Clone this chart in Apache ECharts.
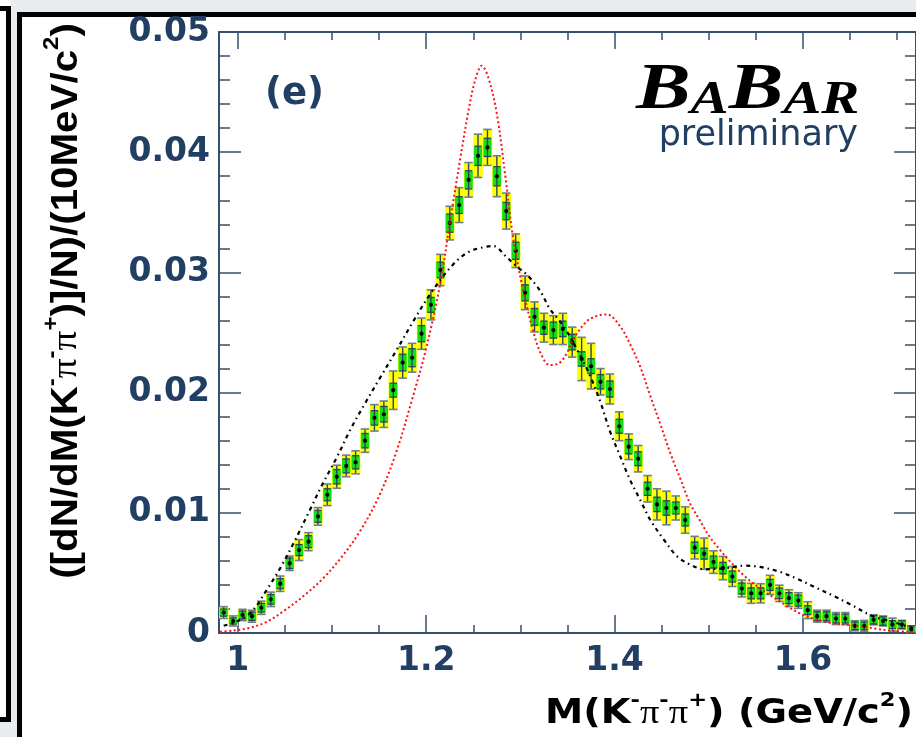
<!DOCTYPE html>
<html><head><meta charset="utf-8">
<script src="https://cdn.jsdelivr.net/npm/echarts@6/dist/echarts.min.js"></script>
<style>html,body{margin:0;padding:0;background:#e9ecef}#c{width:916px;height:737px}</style>
</head><body><div id="c"></div>
<script>
const massBins = [0.985,0.995,1.005,1.015,1.025,1.035,1.045,1.055,1.065,1.075,1.085,1.095,1.105,1.115,1.125,1.135,1.145,1.155,1.165,1.175,1.185,1.195,1.205,1.215,1.225,1.235,1.245,1.255,1.265,1.275,1.285,1.295,1.305,1.315,1.325,1.335,1.345,1.355,1.365,1.375,1.385,1.395,1.405,1.415,1.425,1.435,1.445,1.455,1.465,1.475,1.485,1.495,1.505,1.515,1.525,1.535,1.545,1.555,1.565,1.575,1.585,1.595,1.605,1.615,1.625,1.635,1.645,1.655,1.665,1.675,1.685,1.695,1.705,1.715];
const yieldVal = [0.0017,0.0010,0.0015,0.0014,0.0021,0.0028,0.0041,0.0058,0.0069,0.0076,0.0097,0.0115,0.0130,0.0139,0.0142,0.0160,0.0179,0.0182,0.0202,0.0225,0.0229,0.0249,0.0273,0.0302,0.0341,0.0356,0.0377,0.0397,0.0404,0.0380,0.0351,0.0318,0.0283,0.0263,0.0254,0.0252,0.0253,0.0242,0.0228,0.0222,0.0209,0.0203,0.0172,0.0155,0.0145,0.0120,0.0107,0.0104,0.0104,0.0094,0.0071,0.0066,0.0059,0.0054,0.0047,0.0037,0.0033,0.0033,0.0040,0.0033,0.0029,0.0027,0.0019,0.0014,0.0014,0.0012,0.0012,0.0006,0.0006,0.0011,0.0010,0.0007,0.0007,0.0003];
const errTotal = [0.00049,0.00042,0.00047,0.0005,0.00055,0.0006,0.00064,0.0006,0.00087,0.00075,0.00073,0.0009,0.00096,0.0009,0.00096,0.00097,0.0011,0.0011,0.0016,0.0013,0.0012,0.0013,0.00125,0.0013,0.0014,0.00145,0.00144,0.0018,0.0015,0.0017,0.0015,0.0014,0.0014,0.00125,0.0012,0.0012,0.0013,0.00125,0.0018,0.0019,0.0011,0.00125,0.0012,0.00107,0.0011,0.0011,0.0013,0.0014,0.001,0.0011,0.00094,0.0013,0.00094,0.00097,0.00083,0.0007,0.00083,0.0008,0.0008,0.00068,0.0007,0.00065,0.0007,0.0005,0.0005,0.0005,0.0005,0.00042,0.00045,0.00042,0.00042,0.00054,0.00035,0.0003];
const errStat = [0.0003,0.00026,0.00033,0.00035,0.00036,0.0004,0.00042,0.00044,0.00046,0.0005,0.0005,0.0005,0.0006,0.00058,0.00055,0.0006,0.0006,0.00065,0.00058,0.0007,0.00075,0.00067,0.00062,0.00065,0.00076,0.0007,0.00076,0.0008,0.00076,0.0008,0.00072,0.00072,0.00067,0.0007,0.00055,0.00067,0.00065,0.00065,0.0006,0.00062,0.0006,0.00067,0.00058,0.0006,0.00058,0.00055,0.0006,0.0006,0.0005,0.0005,0.00047,0.00046,0.0005,0.00048,0.00046,0.00046,0.00046,0.00046,0.00046,0.00044,0.00046,0.00046,0.00037,0.00037,0.00037,0.00037,0.00037,0.00032,0.00032,0.00035,0.00035,0.00033,0.00033,0.0003];
const redMass = [0.981,0.995,1.011,1.030,1.050,1.070,1.090,1.110,1.130,1.150,1.168,1.186,1.200,1.215,1.225,1.236,1.245,1.252,1.259,1.266,1.275,1.284,1.292,1.303,1.314,1.322,1.331,1.340,1.348,1.356,1.370,1.382,1.392,1.406,1.416,1.427,1.438,1.448,1.459,1.470,1.480,1.491,1.501,1.512,1.522,1.537,1.551,1.572,1.586,1.600,1.615,1.629,1.657,1.678,1.700,1.720];
const redVal = [0.0001,0.0002,0.0004,0.0009,0.0019,0.0031,0.0045,0.0063,0.0085,0.0114,0.0150,0.0197,0.0237,0.0291,0.0341,0.0394,0.0435,0.0460,0.0472,0.0462,0.0432,0.0380,0.0330,0.0285,0.0250,0.0232,0.0223,0.0224,0.0231,0.0244,0.0259,0.0264,0.0265,0.0255,0.0241,0.0222,0.0197,0.0175,0.0150,0.0128,0.0108,0.0093,0.0080,0.0069,0.0060,0.0048,0.0039,0.0028,0.0021,0.0015,0.0011,0.00085,0.0006,0.00035,0.00015,0.0001];
const dashMass = [0.985,1.000,1.015,1.030,1.045,1.060,1.075,1.090,1.105,1.120,1.135,1.150,1.169,1.186,1.206,1.229,1.245,1.261,1.271,1.285,1.296,1.307,1.317,1.323,1.331,1.346,1.360,1.374,1.385,1.395,1.406,1.416,1.427,1.438,1.452,1.466,1.480,1.496,1.517,1.538,1.554,1.575,1.594,1.613,1.632,1.650,1.674,1.692,1.717];
const dashVal = [0.0006,0.0010,0.0018,0.0035,0.0054,0.0076,0.0100,0.0124,0.0146,0.0170,0.0191,0.0211,0.0236,0.0259,0.0284,0.0307,0.0317,0.0321,0.0322,0.0313,0.0305,0.0298,0.0289,0.0282,0.0270,0.0255,0.0236,0.0214,0.0192,0.0168,0.0147,0.0128,0.0111,0.0094,0.0078,0.0064,0.0057,0.0053,0.0054,0.0056,0.0055,0.0051,0.0045,0.0038,0.0031,0.0024,0.0014,0.0010,0.0004];
const xMajor = [1.0,1.2,1.4,1.6];
const xMinor = [1.0,1.05,1.1,1.15,1.2,1.25,1.3,1.35,1.4,1.45,1.5,1.55,1.6,1.65,1.7];

const NAVY = '#213e63';
const AX = '#34506f';
const chart = echarts.init(document.getElementById('c'), null, {renderer:'canvas'});

const pts = massBins.map((m,i)=>[m, yieldVal[i], errTotal[i], errStat[i]]);

function renderBin(params, api){
  const x=api.value(0), y=api.value(1), t=api.value(2), s=api.value(3);
  const a=api.coord([x-0.005, y+t]), b=api.coord([x+0.005, y-t]);
  const g1=api.coord([x-0.0044, y+s]), g2=api.coord([x+0.0044, y-s]);
  const c=api.coord([x,y]);
  const cw=3.6;
  return {type:'group', children:[
    {type:'rect', shape:{x:a[0], y:a[1], width:b[0]-a[0], height:b[1]-a[1]}, style:{fill:'#ffff00'}},
    {type:'rect', shape:{x:g1[0], y:g1[1], width:g2[0]-g1[0], height:g2[1]-g1[1]}, style:{fill:'#14e014'}},
    {type:'line', shape:{x1:c[0], y1:a[1], x2:c[0], y2:b[1]}, style:{stroke:'#2c4462', lineWidth:1.4}},
    {type:'line', shape:{x1:a[0]+0.5, y1:a[1], x2:b[0]-0.5, y2:a[1]}, style:{stroke:'#6e7f90', lineWidth:1.6}},
    {type:'line', shape:{x1:a[0]+0.5, y1:b[1], x2:b[0]-0.5, y2:b[1]}, style:{stroke:'#6e7f90', lineWidth:1.6}},
    {type:'line', shape:{x1:c[0]-cw, y1:g1[1], x2:c[0]+cw, y2:g1[1]}, style:{stroke:'#2c4462', lineWidth:1.3}},
    {type:'line', shape:{x1:c[0]-cw, y1:g2[1], x2:c[0]+cw, y2:g2[1]}, style:{stroke:'#2c4462', lineWidth:1.3}},
    {type:'circle', shape:{cx:c[0], cy:c[1], r:2.1}, style:{fill:'#000'}}
  ]};
}

const gridBox = {left:219, top:32, width:697, height:601};
function xAx(pos, vals, len, labels){
  return {type:'value', min:0.98, max:1.72, position:pos, gridIndex:0,
    axisLine:{show:true, onZero:false, lineStyle:{color:AX, width:2}},
    axisTick:{show:true, inside:true, length:len, customValues:vals, lineStyle:{color:AX, width:1.5}},
    axisLabel:labels ? {show:true, customValues:xMajor, margin:12, color:NAVY, fontFamily:'DejaVu Sans', fontWeight:'bold', fontSize:33, formatter:v=>String(Math.round(v*10)/10)} : {show:false},
    splitLine:{show:false}, minorTick:{show:false}};
}
function yAx(pos, labels){
  return {type:'value', min:0, max:0.05, interval:0.01, position:pos,
    axisLine:{show:true, lineStyle:{color:AX, width:2}},
    axisTick:{show:true, inside:true, length:22, lineStyle:{color:AX, width:1.5}},
    minorTick:{show:true, splitNumber:5, length:11, lineStyle:{color:AX, width:1.5}},
    axisLabel:labels ? {show:true, margin:9, color:NAVY, fontFamily:'DejaVu Sans', fontWeight:'bold', fontSize:33, formatter:v=> v===0 ? '0' : v.toFixed(2)} : {show:false},
    splitLine:{show:false}};
}

const txt = (o)=>Object.assign({type:'text', z:100}, o);
const PI_FONT = 'Liberation Serif';

const option = {
  backgroundColor:'#e9ecef',
  animation:false,
  grid: gridBox,
  xAxis:[xAx('bottom', xMajor, 18, true), xAx('bottom', xMinor, 8, false), xAx('top', xMajor, 17, false), xAx('top', xMinor, 8, false)],
  yAxis:[yAx('left', true), yAx('right', false)],
  graphic:[
    {type:'rect', z:-10, shape:{x:0, y:0, width:11, height:722}, style:{fill:'#ffffff'}},
    {type:'rect', z:-9, shape:{x:0, y:6, width:11, height:5}, style:{fill:'#000'}},
    {type:'rect', z:-9, shape:{x:6, y:6, width:5, height:716}, style:{fill:'#000'}},
    {type:'rect', z:-9, shape:{x:0, y:717, width:11, height:5}, style:{fill:'#000'}},
    {type:'rect', z:-10, shape:{x:17, y:12, width:899, height:725}, style:{fill:'#000'}},
    {type:'rect', z:-9, shape:{x:22, y:17, width:894, height:720}, style:{fill:'#fff'}},
    txt({left:265, top:76, style:{text:'(e)', fill:NAVY, font:'bold 37px "DejaVu Sans"'}}),
    txt({x:636, y:124, scaleX:1.24, style:{text:'{B|B}{A|A}{B|B}{A|AR}', verticalAlign:'bottom',
      rich:{B:{fontFamily:'Liberation Serif', fontWeight:'bold', fontStyle:'italic', fontSize:66, color:NAVY, lineHeight:60, verticalAlign:'bottom'},
            A:{fontFamily:'Liberation Serif', fontWeight:'bold', fontStyle:'italic', fontSize:46, color:NAVY, lineHeight:60, verticalAlign:'bottom'}}}}),
    txt({x:858, y:118, style:{text:'preliminary', align:'right', verticalAlign:'top', fill:NAVY, font:'35px "DejaVu Sans"'}}),
    txt({x:63, y:301, rotation:Math.PI/2, scaleX:1.09, style:{text:'{a|([dN/dM(K}{s|-}{p|π}{s|-}{p|π}{s|+}{a|)]/N)/(10MeV/c}{s|2}{a|)}', align:'center', verticalAlign:'middle',
      rich:{a:{fontFamily:'Liberation Sans', fontWeight:'bold', fontSize:37, color:NAVY, lineHeight:44, verticalAlign:'bottom'},
            p:{fontFamily:PI_FONT, fontSize:36, color:NAVY, lineHeight:44, verticalAlign:'bottom'},
            s:{fontFamily:'Liberation Sans', fontWeight:'bold', fontSize:22, color:NAVY, lineHeight:44, verticalAlign:'top'}}}}),
    txt({x:913, y:711, scaleX:1.13, style:{text:'{a|M(K}{s|-}{p|π}{s|-}{p|π}{s|+}{a|) (GeV/c}{s|2}{a|)}', align:'right', verticalAlign:'middle',
      rich:{a:{fontFamily:'DejaVu Sans', fontWeight:'bold', fontSize:34, color:NAVY, lineHeight:40, verticalAlign:'bottom'},
            p:{fontFamily:PI_FONT, fontSize:34, color:NAVY, lineHeight:40, verticalAlign:'bottom'},
            s:{fontFamily:'DejaVu Sans', fontWeight:'bold', fontSize:20, color:NAVY, lineHeight:40, verticalAlign:'top'}}}})
  ],
  series:[
    {type:'custom', xAxisIndex:0, yAxisIndex:0, data:pts, renderItem:renderBin, z:3, clip:true},
    {type:'line', xAxisIndex:0, yAxisIndex:0, data:redMass.map((m,i)=>[m, redVal[i]]), smooth:0.35, showSymbol:false, z:5,
      lineStyle:{color:'#ff1010', width:2, type:[2,2.6]}},
    {type:'line', xAxisIndex:0, yAxisIndex:0, data:dashMass.map((m,i)=>[m, dashVal[i]]), smooth:0.35, showSymbol:false, z:5,
      lineStyle:{color:'#000', width:2.2, type:[4,4,1.5,4]}}
  ]
};
chart.setOption(option);
</script></body></html>
